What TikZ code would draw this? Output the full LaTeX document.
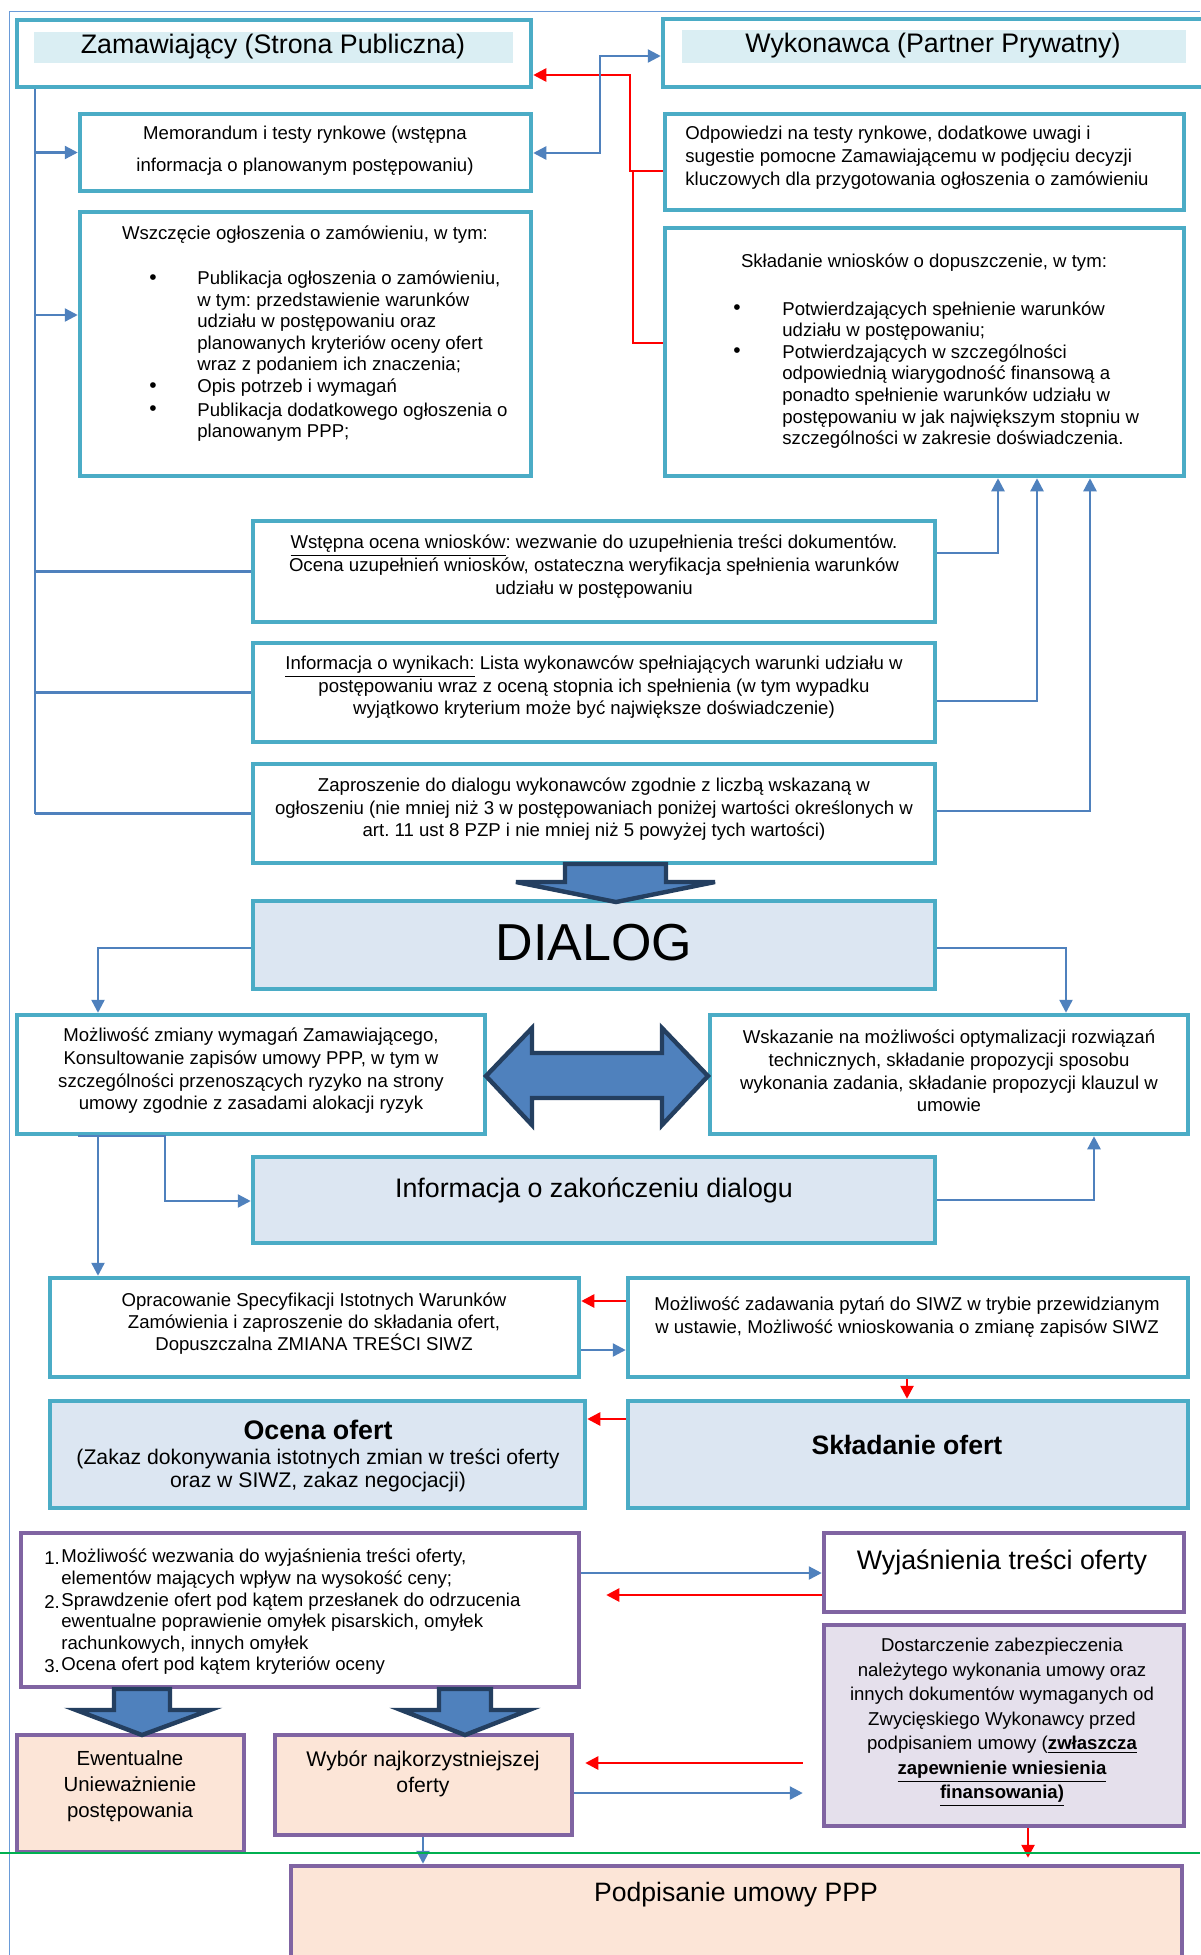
\documentclass[tikz,border=0pt]{standalone}
\usepackage{fontspec}
\setmainfont{Liberation Sans}
\frenchspacing
\usetikzlibrary{arrows.meta,fit,calc}
\definecolor{tealb}{HTML}{4BACC6}
\definecolor{purpb}{HTML}{8064A2}
\definecolor{connb}{HTML}{4F81BD}
\definecolor{navyb}{HTML}{243F60}
\definecolor{lightb}{HTML}{DCE6F2}
\definecolor{bandb}{HTML}{DAEEF3}
\definecolor{lavb}{HTML}{E5E0EC}
\definecolor{peachb}{HTML}{FCE5D7}
\definecolor{greenb}{HTML}{00B050}
\definecolor{frameb}{HTML}{6A9BD8}
\definecolor{redb}{HTML}{FF0000}
\begin{document}
\begin{tikzpicture}[x=0.5pt,y=-0.5pt,
  tbox/.style={draw=tealb,line width=2.25pt,fill=white,inner sep=0pt},
  tboxf/.style={tbox,fill=lightb},
  pbox/.style={draw=purpb,line width=2.25pt,fill=white,inner sep=0pt},
  conn/.style={draw=connb,line width=1.2pt},
  rconn/.style={draw=redb,line width=1.3pt},
  barr/.style={conn,-{Triangle[length=6.5pt,width=6.5pt]}},
  rarr/.style={rconn,-{Triangle[length=6.5pt,width=6.5pt]}},
  blockarr/.style={draw=navyb,line width=2.2pt,fill=connb,line join=miter},
  txt/.style={inner sep=0pt,align=center,font=\fontsize{9.3}{11.5}\selectfont},
  ltxt/.style={txt,align=left,anchor=west},
  big/.style={font=\fontsize{13.4}{16}\selectfont}
]
\useasboundingbox (0,0) rectangle (1200,1955);
\fill[white] (0,0) rectangle (1200,1955);

% outer frame
\draw[frameb,line width=0.6pt] (9.5,1955) -- (9.5,11.5) -- (1200,11.5);

% ---------- boxes ----------
\node[tbox,fit={(17,20)(531,87)}] (zam) {};
\node[fill=bandb,inner sep=0pt,fit={(34,32)(513,63)}] (zamband) {};
\node[tbox,fit={(663,19)(1215,87)}] (wyk) {};
\node[fill=bandb,inner sep=0pt,fit={(682,30)(1186,63)}] (wykband) {};
\node[tbox,fit={(80,114)(531,191)}] (memo) {};
\node[tbox,fit={(665,114)(1184,210)}] (odp) {};
\node[tbox,fit={(80,212)(531,476)}] (wszcz) {};
\node[tbox,fit={(665,228)(1184,476)}] (skl) {};
\node[tbox,fit={(253,521)(935,622)}] (wst) {};
\node[tbox,fit={(253,643)(935,742)}] (info) {};
\node[tbox,fit={(253,764)(935,863)}] (zapr) {};
\node[tboxf,fit={(253,901)(935,989)}] (dialog) {};
\node[tbox,fit={(17,1015)(485,1134)}] (mozl) {};
\node[tbox,fit={(710,1015)(1188,1134)}] (wsk) {};
\node[tboxf,fit={(253,1157)(935,1243)}] (konc) {};
\node[tbox,fit={(50,1278)(579,1377)}] (oprac) {};
\node[tbox,fit={(628,1278)(1188,1377)}] (pyt) {};
\node[tboxf,fit={(50,1401)(585,1508)}] (ocena) {};
\node[tboxf,fit={(628,1401)(1188,1508)}] (sklof) {};
\node[pbox,fit={(21,1533)(579,1687)}] (lista) {};
\node[pbox,fit={(824,1533)(1184,1612)}] (wyj) {};
\node[pbox,fill=lavb,fit={(824,1625)(1184,1826)}] (dost) {};
\node[pbox,fill=peachb,fit={(17,1735)(244,1852)}] (ewent) {};
\node[pbox,fill=peachb,fit={(275,1735)(572,1835)}] (wybor) {};
\node[pbox,fill=peachb,fit={(291,1866)(1182,1975)}] (podp) {};

% ---------- texts ----------
\node[txt,big] (zamt) at (273,47) {Zamawiający (Strona Publiczna)};
\node[txt,big] (wykt) at (933,46) {Wykonawca (Partner Prywatny)};
\node[txt,font=\fontsize{9.3}{16}\selectfont] (memot) at (305,151)
  {Memorandum i testy rynkowe (wstępna\\informacja o planowanym postępowaniu)};
\node[ltxt] (odpt) at (685,158)
  {Odpowiedzi na testy rynkowe, dodatkowe uwagi i\\sugestie pomocne Zamawiającemu w podjęciu decyzji\\kluczowych dla przygotowania ogłoszenia o zamówieniu};

\node[txt] (wszczt) at (305,235) {Wszczęcie ogłoszenia o zamówieniu, w tym:};
\node[txt,font=\fontsize{10.5}{12}\selectfont] (wb1) at (153,280) {•};
\node[txt,font=\fontsize{10.5}{12}\selectfont] (wb2) at (153,388) {•};
\node[txt,font=\fontsize{10.5}{12}\selectfont] (wb3) at (153,411) {•};
\node[ltxt,font=\fontsize{9.3}{10.75}\selectfont] (wi1) at (197,323)
  {Publikacja ogłoszenia o zamówieniu,\\w tym: przedstawienie warunków\\udziału w postępowaniu oraz\\planowanych kryteriów oceny ofert\\wraz z podaniem ich znaczenia;};
\node[ltxt] (wi2) at (197,388) {Opis potrzeb i wymagań};
\node[ltxt,font=\fontsize{9.3}{10.75}\selectfont] (wi3) at (197,422)
  {Publikacja dodatkowego ogłoszenia o\\planowanym PPP;};

\node[txt] (sklt) at (924,263) {Składanie wniosków o dopuszczenie, w tym:};
\node[txt,font=\fontsize{10.5}{12}\selectfont] (sb1) at (737,310) {•};
\node[txt,font=\fontsize{10.5}{12}\selectfont] (sb2) at (737,353) {•};
\node[ltxt,font=\fontsize{9.3}{10.85}\selectfont] (si1) at (782,321)
  {Potwierdzających spełnienie warunków\\udziału w postępowaniu;};
\node[ltxt,font=\fontsize{9.3}{10.85}\selectfont] (si2) at (782,396.5)
  {Potwierdzających w szczególności\\odpowiednią wiarygodność finansową a\\ponadto spełnienie warunków udziału w\\postępowaniu w jak największym stopniu w\\szczególności w zakresie doświadczenia.};

\node[txt] (wstt) at (594,567)
  {\underline{Wstępna ocena wniosków}: wezwanie do uzupełnienia treści dokumentów.\\Ocena uzupełnień wniosków, ostateczna weryfikacja spełnienia warunków\\udziału w postępowaniu};
\node[txt,font=\fontsize{9.3}{11.25}\selectfont] (infot) at (594,687.5)
  {\underline{Informacja o wynikach:} Lista wykonawców spełniających warunki udziału w\\postępowaniu wraz z oceną stopnia ich spełnienia (w tym wypadku\\wyjątkowo kryterium może być największe doświadczenie)};
\node[txt,font=\fontsize{9.3}{11.25}\selectfont] (zaprt) at (594,809.5)
  {Zaproszenie do dialogu wykonawców zgodnie z liczbą wskazaną w\\ogłoszeniu (nie mniej niż 3 w postępowaniach poniżej wartości określonych w\\art. 11 ust 8 PZP i nie mniej niż 5 powyżej tych wartości)};

\node[txt,font=\fontsize{26}{30}\selectfont] (dialogt) at (594,943) {DIALOG};

\node[txt,font=\fontsize{9.3}{11.35}\selectfont] (mozlt) at (251,1071)
  {Możliwość zmiany wymagań Zamawiającego,\\Konsultowanie zapisów umowy PPP, w tym w\\szczególności przenoszących ryzyko na strony\\umowy zgodnie z zasadami alokacji ryzyk};
\node[txt,font=\fontsize{9.3}{11.35}\selectfont] (wskt) at (949,1071)
  {Wskazanie na możliwości optymalizacji rozwiązań\\technicznych, składanie propozycji sposobu\\wykonania zadania, składanie propozycji klauzul w\\umowie};
\node[txt,big] (konct) at (594,1190) {Informacja o zakończeniu dialogu};

\node[txt,font=\fontsize{9.3}{11}\selectfont] (opract) at (314,1324)
  {Opracowanie Specyfikacji Istotnych Warunków\\Zamówienia i zaproszenie do składania ofert,\\Dopuszczalna ZMIANA TREŚCI SIWZ};
\node[txt] (pytt) at (907,1317.5)
  {Możliwość zadawania pytań do SIWZ w trybie przewidzianym\\w ustawie, Możliwość wnioskowania o zmianę zapisów SIWZ};

\node[txt,font=\bfseries\fontsize{13.4}{16}\selectfont] (ocenah) at (318,1430) {Ocena ofert};
\node[txt,font=\fontsize{10.6}{11.5}\selectfont] (ocenat) at (318,1470.5)
  {(Zakaz dokonywania istotnych zmian w treści oferty\\oraz w SIWZ, zakaz negocjacji)};
\node[txt,font=\bfseries\fontsize{13.3}{16}\selectfont] (sklt2) at (907,1445) {Składanie ofert};

\node[txt,anchor=west] (l1n) at (44,1558) {1.};
\node[ltxt,font=\fontsize{9.3}{10.8}\selectfont] (l1) at (61,1568.5)
  {Możliwość wezwania do wyjaśnienia treści oferty,\\elementów mających wpływ na wysokość ceny;};
\node[txt,anchor=west] (l2n) at (44,1602) {2.};
\node[ltxt,font=\fontsize{9.3}{10.8}\selectfont] (l2) at (61,1623)
  {Sprawdzenie ofert pod kątem przesłanek do odrzucenia\\ewentualne poprawienie omyłek pisarskich, omyłek\\rachunkowych, innych omyłek};
\node[txt,anchor=west] (l3n) at (44,1666) {3.};
\node[ltxt] (l3) at (61,1666) {Ocena ofert pod kątem kryteriów oceny};

\node[txt,big] (wyjt) at (1002,1562) {Wyjaśnienia treści oferty};
\node[txt,font=\fontsize{9.3}{12.25}\selectfont] (dostt) at (1002,1722.5)
  {Dostarczenie zabezpieczenia\\należytego wykonania umowy oraz\\innych dokumentów wymaganych od\\Zwycięskiego Wykonawcy przed\\podpisaniem umowy (\underline{\textbf{zwłaszcza}}\\\underline{\textbf{zapewnienie wniesienia}}\\\underline{\textbf{finansowania)}}};
\node[txt,font=\fontsize{10.2}{13}\selectfont] (ewentt) at (130,1786)
  {Ewentualne\\Unieważnienie\\postępowania};
\node[txt,font=\fontsize{10.6}{13}\selectfont] (wybort) at (423,1774)
  {Wybór najkorzystniejszej\\oferty};
\node[txt,font=\fontsize{13.3}{16}\selectfont] (podpt) at (736,1895) {Podpisanie umowy PPP};

% ---------- connectors ----------
% left bus
\draw[conn] (zam.south -| 35,0) -- (35,0 |- zapr.west);
\draw[barr] (35,0 |- memo.west) -- (memo.west);
\draw[barr] (35,315) -- (wszcz.west |- 0,315);
\draw[conn] (35,0 |- wst.west) -- (wst.west);
\draw[conn] (35,0 |- info.west) -- (info.west);
\draw[conn] (35,0 |- zapr.west) -- (zapr.west);
% risers to Skladanie wnioskow
\draw[barr] (wst.east |- 0,553) -| (998,0 |- skl.south);
\draw[barr] (info.east |- 0,701) -| (1037,0 |- skl.south);
\draw[barr] (zapr.east |- 0,811) -| (1090,0 |- skl.south);
% red feedback
\draw[rarr] (odp.west |- 0,171) -| (630,75) -- (zam.east |- 0,75);
\draw[rconn] (skl.west |- 0,343) -| (633,171);
% memo <-> wykonawca
\draw[conn,{Triangle[length=6.5pt,width=6.5pt]}-{Triangle[length=6.5pt,width=6.5pt]}]
  (memo.east |- 0,153) -| (600,56) -- (wyk.west |- 0,56);
% dialog
\draw[barr] (dialog.west |- 0,948) -| (98,0 |- mozl.north);
\draw[barr] (dialog.east |- 0,948) -| (1066,0 |- wsk.north);
\draw[barr] (98,0 |- mozl.south) -- (98,0 |- oprac.north);
\draw[barr] (78,0 |- mozl.south) -| (165,1201) -- (konc.west |- 0,1201);
\draw[barr] (konc.east |- 0,1200) -| (1094,0 |- wsk.south);
% SIWZ
\draw[rarr] (pyt.west |- 0,1301) -- (oprac.east |- 0,1301);
\draw[barr] (oprac.east |- 0,1350) -- (pyt.west |- 0,1350);
\draw[rarr] (907,0 |- pyt.south) -- (907,0 |- sklof.north);
\draw[rarr] (sklof.west |- 0,1419) -- (ocena.east |- 0,1419);
% lista / wyjasnienia
\draw[barr] (lista.east |- 0,1573) -- (wyj.west |- 0,1573);
\coordinate (redend1) at ($(lista.east |- 0,1595)+(25,0)$);
\draw[rarr] (wyj.west |- 0,1595) -- (redend1);
% wybor / dostarczenie
\coordinate (rstart2) at ($(dost.west |- 0,1763)+(-19,0)$);
\coordinate (rend2) at ($(wybor.east |- 0,1763)+(11,0)$);
\draw[rarr] (rstart2) -- (rend2);
\coordinate (bend2) at ($(dost.west |- 0,1793)+(-19,0)$);
\draw[barr] (wybor.east |- 0,1793) -- (bend2);
\draw[barr] (423,0 |- wybor.south) -- (423,0 |- podp.north);
\coordinate (rend3) at ($(1028,0 |- podp.north)+(0,-6)$);
\draw[rarr] (1028,0 |- dost.south) -- (rend3);

% ---------- block arrows ----------
\draw[blockarr] (565,864) -- (666,864) -- (666,882) -- (715,882) -- (616,902)
  -- (516,882) -- (565,882) -- cycle;
\draw[blockarr] (486,1076) -- (532,1028) -- (532,1053) -- (662,1053) -- (662,1028)
  -- (708,1076) -- (662,1125) -- (662,1098) -- (532,1098) -- (532,1125) -- cycle;
\draw[blockarr] (114,1689) -- (170,1689) -- (170,1710) -- (210,1710) -- (142,1735)
  -- (76,1710) -- (114,1710) -- cycle;
\draw[blockarr] (439,1689) -- (491,1689) -- (491,1710) -- (529,1710) -- (465,1735)
  -- (401,1710) -- (439,1710) -- cycle;

% green line
\draw[greenb,line width=1.3pt] (0,1853) -- (1200,1853);
\end{tikzpicture}
\end{document}
